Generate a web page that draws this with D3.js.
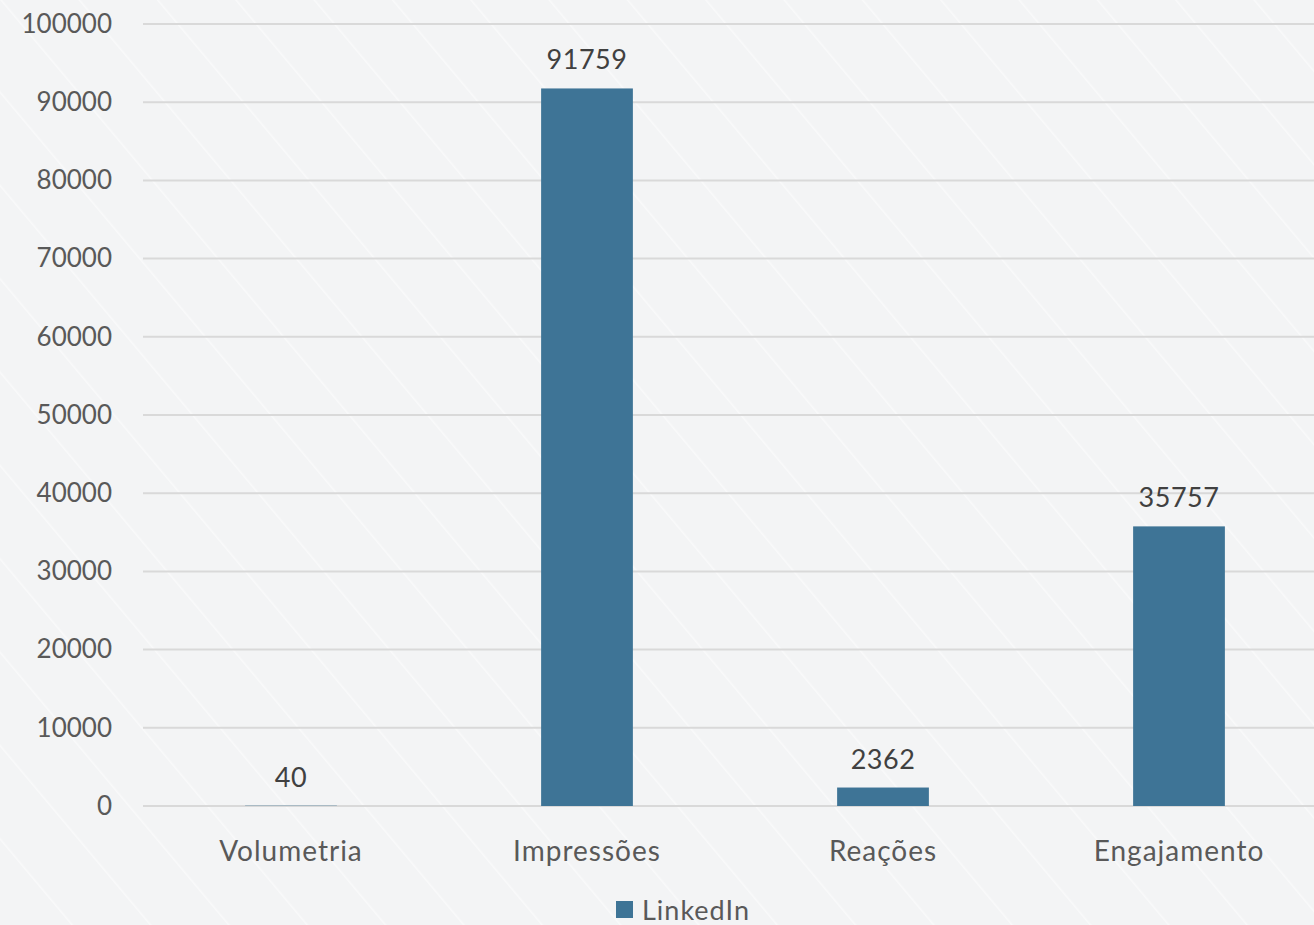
<!DOCTYPE html>
<html>
<head>
<meta charset="utf-8">
<script src="https://cdn.jsdelivr.net/npm/d3@7"></script>
<style>
  body { margin: 0; background: #f4f5f6; }
  svg { display: block; font-family: Lato, "Open Sans", sans-serif; }
</style>
</head>
<body>
<div id="chart"></div>
<script>
// chart data
const categories = ["Volumetria", "Impressões", "Reações", "Engajamento"];
const linkedin = [40, 91759, 2362, 35757];
const yTicks = [0, 10000, 20000, 30000, 40000, 50000, 60000, 70000, 80000, 90000, 100000];
const seriesName = "LinkedIn";

const width = 1314;
const height = 925;
const margin = { left: 143, right: -13, top: 24, bottom: 119 };
const barColor = "#3e7496";

const svg = d3.select("#chart")
  .append("svg")
  .attr("width", width)
  .attr("height", height);

// background with faint diagonal stripes
const defs = svg.append("defs");
const pat = defs.append("pattern")
  .attr("id", "stripes")
  .attr("width", 60)
  .attr("height", 60)
  .attr("patternUnits", "userSpaceOnUse")
  .attr("patternTransform", "rotate(-40)");
pat.append("line")
  .attr("x1", 0).attr("y1", 0).attr("x2", 0).attr("y2", 60)
  .attr("stroke", "#ffffff")
  .attr("stroke-width", 3)
  .attr("opacity", 0.5);

svg.append("rect").attr("width", width).attr("height", height).attr("fill", "#f3f4f5");
svg.append("rect").attr("width", width).attr("height", height).attr("fill", "url(#stripes)");

// scales
const x = d3.scaleBand()
  .domain(categories)
  .range([margin.left, width - margin.right])
  .paddingInner(0.69)
  .paddingOuter(0.345);

const y = d3.scaleLinear()
  .domain([0, 100000])
  .range([height - margin.bottom, margin.top]);

// gridlines
svg.append("g")
  .selectAll("line")
  .data(yTicks)
  .enter()
  .append("line")
  .attr("x1", margin.left)
  .attr("x2", width)
  .attr("y1", d => y(d))
  .attr("y2", d => y(d))
  .attr("stroke", "#d9d9d9")
  .attr("stroke-width", 2);

// y axis labels
const yAxis = svg.append("g")
  .attr("transform", `translate(${margin.left - 31}, 0)`)
  .call(d3.axisLeft(y).tickValues(yTicks).tickSize(0).tickPadding(0).tickFormat(d3.format("d")));
yAxis.select(".domain").remove();
yAxis.selectAll("text")
  .attr("font-size", "26px")
  .attr("fill", "#595959")
  .attr("font-family", "Lato, 'Open Sans', sans-serif");

// x axis labels
const xAxis = svg.append("g")
  .attr("transform", `translate(0, ${height - margin.bottom})`)
  .call(d3.axisBottom(x).tickSize(0).tickPadding(35));
xAxis.select(".domain").remove();
xAxis.selectAll("text")
  .attr("font-size", "28px")
  .attr("letter-spacing", "1px")
  .attr("fill", "#595959")
  .attr("font-family", "Lato, 'Open Sans', sans-serif");

// bars
svg.selectAll(".bar")
  .data(linkedin)
  .enter()
  .append("rect")
  .attr("class", "bar")
  .attr("x", (d, i) => x(categories[i]))
  .attr("y", d => y(d))
  .attr("width", x.bandwidth())
  .attr("height", d => y(0) - y(d))
  .attr("fill", barColor);

// value labels
svg.selectAll(".label")
  .data(linkedin)
  .enter()
  .append("text")
  .attr("class", "label")
  .attr("x", (d, i) => x(categories[i]) + x.bandwidth() / 2)
  .attr("y", d => y(d) - 19)
  .attr("text-anchor", "middle")
  .attr("font-size", "27px")
  .attr("letter-spacing", "0.5px")
  .attr("fill", "#404040")
  .text(d => d);

// legend
const legend = svg.append("g").attr("transform", "translate(616, 901)");
legend.append("rect")
  .attr("width", 17)
  .attr("height", 17)
  .attr("fill", barColor);
legend.append("text")
  .attr("x", 26)
  .attr("y", 19)
  .attr("font-size", "27px")
  .attr("letter-spacing", "1px")
  .attr("fill", "#595959")
  .text(seriesName);
</script>
</body>
</html>
